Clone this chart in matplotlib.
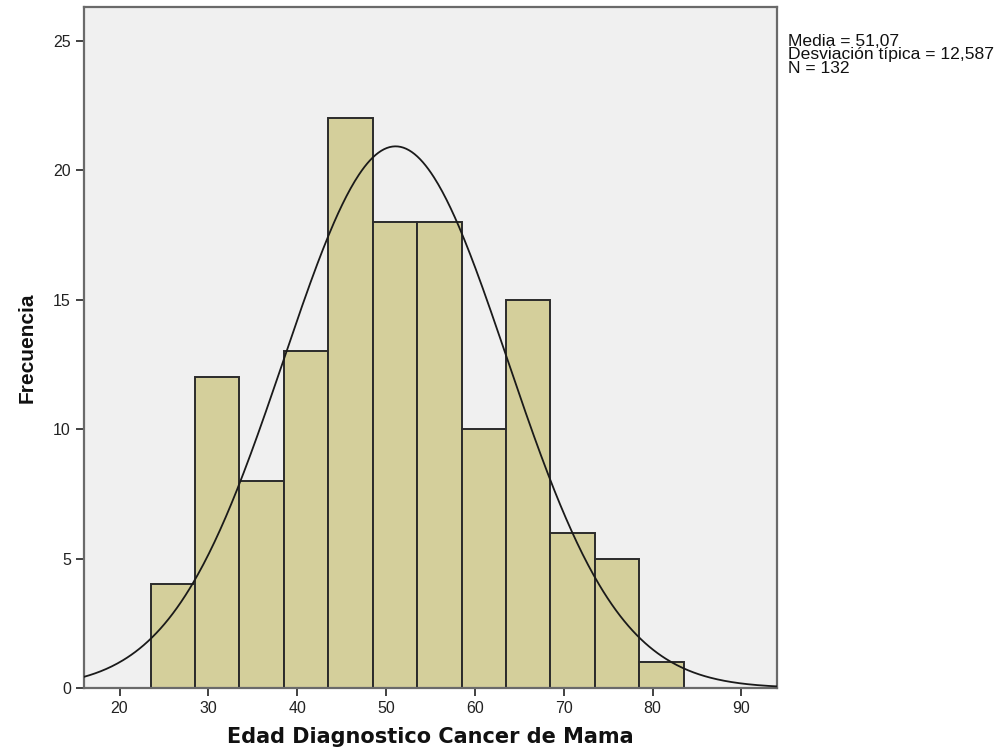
import numpy as np
import glob, os
import matplotlib
matplotlib.use("Agg")
import matplotlib.pyplot as plt
from matplotlib.font_manager import FontProperties

plt.rcParams['font.family'] = ['Liberation Sans', 'DejaVu Sans']

# Data
bin_edges = [23.5, 28.5, 33.5, 38.5, 43.5, 48.5, 53.5, 58.5, 63.5, 68.5, 73.5, 78.5, 83.5]
counts = [4, 12, 8, 13, 22, 18, 18, 10, 15, 6, 5, 1]
mean = 51.07
std = 12.587
n = 132
x_ticks = [20, 30, 40, 50, 60, 70, 80, 90]
y_ticks = [0, 5, 10, 15, 20, 25]

def find_font(name):
    for d in ['/usr/share/fonts', '/usr/local/share/fonts', os.path.expanduser('~/.fonts')]:
        hits = glob.glob(os.path.join(d, '**', name), recursive=True)
        if hits:
            return hits[0]
    return None

narrow_bold_file = find_font('LiberationSansNarrow-Bold.ttf')
xlab_fp = FontProperties(family='DejaVu Sans', weight='bold', size=15)
ylab_fp = FontProperties(fname=narrow_bold_file, size=17) if narrow_bold_file else FontProperties(family='Liberation Sans', weight='bold', size=15)

fig = plt.figure(figsize=(10.05, 7.49), dpi=100)
ax = fig.add_axes([84/1005, 61/749, (777-84)/1005, (688-7)/749])
ax.set_facecolor('#F0F0F0')

edges = np.array(bin_edges)
widths = np.diff(edges)
ax.bar(edges[:-1], counts, width=widths, align='edge', color='#D4CF9B',
       edgecolor='#2b2b2b', linewidth=1.4, zorder=2)

xmin, xmax = 16, 94
xs = np.linspace(xmin, xmax, 500)
binw = widths[0]
ys = n * binw * np.exp(-0.5 * ((xs - mean) / std) ** 2) / (std * np.sqrt(2 * np.pi))
ax.plot(xs, ys, color='#1a1a1a', linewidth=1.3, zorder=3)

ax.set_xlim(xmin, xmax)
ax.set_ylim(0, 26.3)
ax.set_xticks(x_ticks)
ax.set_yticks(y_ticks)
ax.tick_params(axis='both', direction='out', length=6, width=1.3, color='#333333',
               labelsize=11.5, labelcolor='#222222', top=False, right=False)
for s in ax.spines.values():
    s.set_color('#6a6a6a')
    s.set_linewidth(1.6)

ax.set_xlabel('Edad Diagnostico Cancer de Mama', fontproperties=xlab_fp,
              labelpad=8, color='#111111')
ax.set_ylabel('Frecuencia', fontproperties=ylab_fp, labelpad=12, color='#111111')

fig.text(788/1005, 1 - 55/749, 'Media = 51,07\nDesviación típica = 12,587\nN = 132',
         fontsize=12.6, va='center', ha='left', linespacing=0.86, color='#111111')

fig.savefig('out.png', dpi=100)
